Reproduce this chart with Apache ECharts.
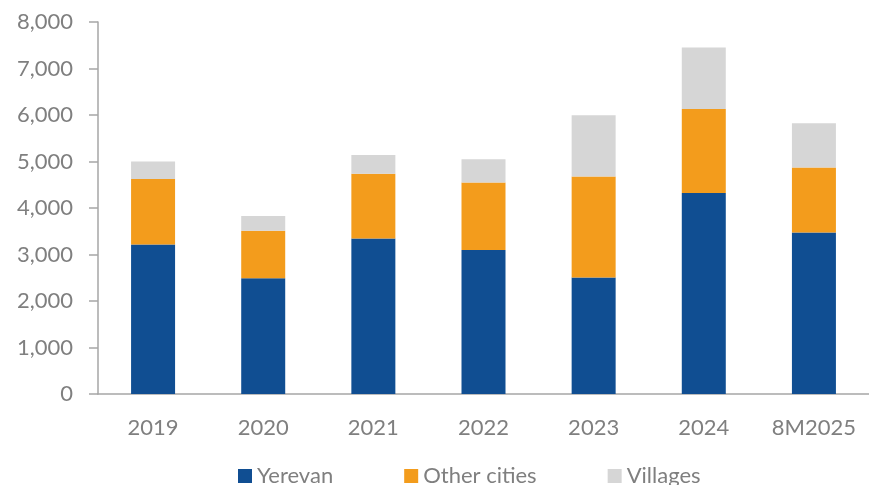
<!DOCTYPE html>
<html>
<head>
<meta charset="utf-8">
<script src="https://cdn.jsdelivr.net/npm/echarts@6/dist/echarts.min.js"></script>
<style>
	html, body { margin: 0; padding: 0; background: #fff; }
	#chart { width: 869px; height: 485px; }
</style>
</head>
<body>
<div id="chart"></div>
<script>
var categories = ['2019', '2020', '2021', '2022', '2023', '2024', '8M2025']
var yerevan = [3215, 2490, 3345, 3095, 2505, 4320, 3475]
var otherCities = [1410, 1020, 1390, 1455, 2170, 1810, 1395]
var villages = [375, 320, 405, 500, 1320, 1320, 955]
var yTicks = [0, 1000, 2000, 3000, 4000, 5000, 6000, 7000, 8000]

var textColor = '#7f7f7f'
var fontName = 'Lato'

var chart = echarts.init(document.getElementById('chart'))

function barSeries(name, data, color) {
	return {
		name: name,
		type: 'bar',
		stack: 'total',
		barWidth: 44,
		data: data,
		itemStyle: { color: color },
		emphasis: { disabled: true }
	}
}

var option = {
	animation: false,
	textStyle: { fontFamily: fontName },
	grid: {
		left: 98,
		top: 22,
		width: 776,
		height: 372
	},
	legend: {
		left: 233,
		top: 460,
		itemWidth: 14,
		itemHeight: 14,
		itemGap: 71,
		itemStyle: { borderWidth: 0 },
		icon: 'rect',
		textStyle: { color: textColor, fontSize: 22, fontFamily: fontName },
		data: ['Yerevan', 'Other cities', 'Villages']
	},
	xAxis: {
		type: 'category',
		data: categories,
		axisLine: { lineStyle: { color: '#a6a6a6', width: 1.5 } },
		axisTick: { show: false },
		axisLabel: { color: textColor, fontSize: 22, margin: 23, fontFamily: fontName }
	},
	yAxis: {
		type: 'value',
		min: yTicks[0],
		max: yTicks[yTicks.length - 1],
		interval: 1000,
		splitLine: { show: false },
		axisLine: { show: true, lineStyle: { color: '#a6a6a6', width: 1.5 } },
		axisTick: { show: true, length: 9, lineStyle: { color: '#a6a6a6', width: 1.5 } },
		axisLabel: {
			color: textColor,
			fontSize: 22,
			margin: 25,
			fontFamily: fontName,
			formatter: function(v) { return v.toLocaleString('en-US') }
		}
	},
	series: [
		barSeries('Yerevan', yerevan, '#104e92'),
		barSeries('Other cities', otherCities, '#f39c1c'),
		barSeries('Villages', villages, '#d6d6d6')
	]
}

chart.setOption(option)
</script>
</body>
</html>
